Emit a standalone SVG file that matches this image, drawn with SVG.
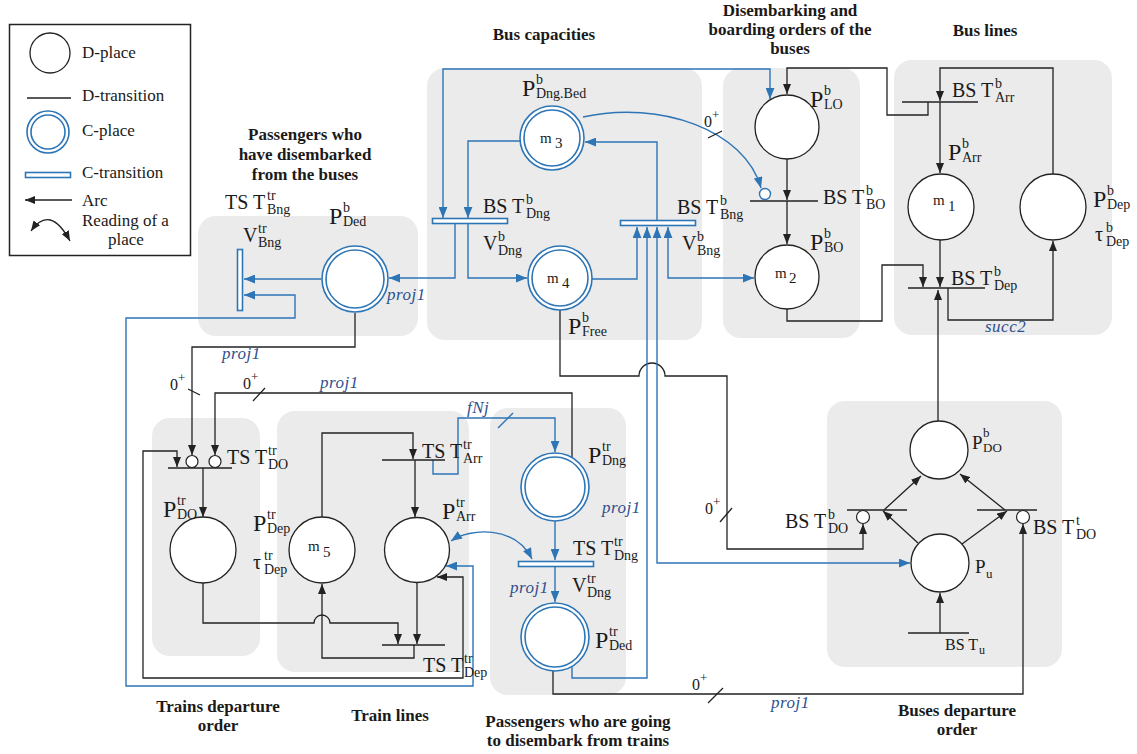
<svg xmlns="http://www.w3.org/2000/svg" width="1137" height="754" viewBox="0 0 1137 754" font-family="'Liberation Serif', 'DejaVu Serif', serif">
<style>
.reg{fill:#ebebeb}
.dp{fill:#fff;stroke:#222;stroke-width:1.3}
.cp{fill:#fff;stroke:#2e75b6;stroke-width:1.6}
.ct{fill:#fff;stroke:#2e75b6;stroke-width:1.6}
.dt{stroke:#222;stroke-width:1.4}
.inh{fill:#fff;stroke:#222;stroke-width:1.2}
.inb{fill:#fff;stroke:#2e75b6;stroke-width:1.4}
.k{fill:none;stroke:#222;stroke-width:1.3}
.b{fill:none;stroke:#2e75b6;stroke-width:1.4}
text{font-family:'Liberation Serif','DejaVu Serif',serif;fill:#1a1a1a}
.L{font-size:20px}
.P{font-size:24px}
.s{font-size:14px}
.m{font-size:15px}
.lg{font-size:17px}
.ti{font-size:17px;font-weight:bold;text-anchor:middle}
.pj{font-style:italic;font-size:17px;fill:#2f4f8f;letter-spacing:0.5px}
.z{font-size:16px}
.zs{font-size:13px}
</style>
<defs>
<marker id="ak" viewBox="0 0 10 8" refX="10" refY="4" markerWidth="10" markerHeight="8" markerUnits="userSpaceOnUse" orient="auto-start-reverse"><path d="M0 0L10 4L0 8z" fill="#222"/></marker>
<marker id="ab" viewBox="0 0 10 8" refX="10" refY="4" markerWidth="11" markerHeight="9" markerUnits="userSpaceOnUse" orient="auto-start-reverse"><path d="M0 0L10 4L0 8z" fill="#2e75b6"/></marker>
</defs>

<g id="regions">
<rect class="reg" x="198" y="216" width="220" height="120" rx="18"/>
<rect class="reg" x="427" y="68" width="275" height="272" rx="18"/>
<rect class="reg" x="723" y="68" width="137" height="270" rx="18"/>
<rect class="reg" x="894" y="60" width="218" height="275" rx="18"/>
<rect class="reg" x="152" y="418" width="108" height="238" rx="18"/>
<rect class="reg" x="277" y="411" width="192" height="261" rx="18"/>
<rect class="reg" x="490" y="408" width="136" height="287" rx="18"/>
<rect class="reg" x="827" y="401" width="235" height="266" rx="18"/>
</g>

<g id="legend">
<rect x="9.5" y="24.5" width="181" height="231" fill="#fff" stroke="#222" stroke-width="1.5"/>
<circle class="dp" cx="50" cy="53" r="20"/>
<text class="lg" x="82" y="58">D-place</text>
<line class="dt" x1="27" y1="98" x2="71" y2="98"/>
<text class="lg" x="82" y="101">D-transition</text>
<circle class="cp" cx="48" cy="132" r="21"/><circle class="cp" cx="48" cy="132" r="17"/>
<text class="lg" x="82" y="136">C-place</text>
<rect class="ct" x="25.5" y="172.5" width="45" height="5"/>
<text class="lg" x="82" y="178">C-transition</text>
<path class="k" d="M72 200H25" marker-end="url(#ak)"/>
<text class="lg" x="82" y="206">Arc</text>
<path class="k" d="M31 231Q50 204 70 241" marker-start="url(#ak)" marker-end="url(#ak)"/>
<text class="lg" x="82" y="226">Reading of a</text>
<text class="lg" x="108" y="245">place</text>
</g>

<g id="titles">
<text class="ti" x="544" y="40">Bus  capacities</text>
<text class="ti" x="790" y="16">Disembarking and</text>
<text class="ti" x="790" y="35">boarding orders of the</text>
<text class="ti" x="790" y="54">buses</text>
<text class="ti" x="985" y="36">Bus  lines</text>
<text class="ti" x="305" y="140">Passengers who</text>
<text class="ti" x="305" y="160">have disembarked</text>
<text class="ti" x="305" y="180">from the buses</text>
<text class="ti" x="218" y="712">Trains departure</text>
<text class="ti" x="218" y="731">order</text>
<text class="ti" x="390" y="721">Train  lines</text>
<text class="ti" x="578" y="727">Passengers who are going</text>
<text class="ti" x="578" y="746">to disembark from trains</text>
<text class="ti" x="957" y="716">Buses departure</text>
<text class="ti" x="957" y="735">order</text>
</g>

<g id="connectors">
<path class="k" d="M355 313V347H192V455" marker-end="url(#ak)"/>
<path class="k" d="M572 458V393H215V455" marker-end="url(#ak)"/>
<path class="k" d="M177 467V451H143V678H463V577H437" marker-start="url(#ak)" marker-end="url(#ak)"/>
<path class="k" d="M203 468V517" marker-end="url(#ak)"/>
<path class="k" d="M203 583V623H314A8 8 0 0 1 330 623H398V644" marker-end="url(#ak)"/>
<path class="k" d="M322 517V433H413V459" marker-end="url(#ak)"/>
<path class="k" d="M415 460V517" marker-end="url(#ak)"/>
<path class="k" d="M417 583V644" marker-end="url(#ak)"/>
<path class="k" d="M414 645V658H322V584" marker-end="url(#ak)"/>
<path class="k" d="M560 310V376H639A13 13 0 0 1 665 376H727V549H863V524" marker-end="url(#ak)"/>
<path class="k" d="M787 309V321H882V265H923V287" marker-end="url(#ak)"/>
<path class="k" d="M787 159V200" marker-end="url(#ak)"/>
<path class="k" d="M787 201V244" marker-end="url(#ak)"/>
<path class="k" d="M928 102V115H887V68H787V94" marker-end="url(#ak)"/>
<path class="k" d="M1053 174V68H940V101" marker-end="url(#ak)"/>
<path class="k" d="M940 102V173" marker-end="url(#ak)"/>
<path class="k" d="M940 240V287" marker-end="url(#ak)"/>
<path class="k" d="M948 288V320H1053V241" marker-end="url(#ak)"/>
<path class="k" d="M938 421V290" marker-end="url(#ak)"/>
<path class="k" d="M918 543L883 511" marker-end="url(#ak)"/>
<path class="k" d="M884 510L921 476" marker-end="url(#ak)"/>
<path class="k" d="M962 544L1007 511" marker-end="url(#ak)"/>
<path class="k" d="M1005 510L960 474" marker-end="url(#ak)"/>
<path class="k" d="M940 633V593" marker-end="url(#ak)"/>
<path class="k" d="M553 671V694H1023V524" marker-end="url(#ak)"/>
<path class="b" d="M321 279H244" marker-end="url(#ab)"/>
<path class="b" d="M244 295H295V318H126V686H473V566H446" marker-start="url(#ab)" marker-end="url(#ab)"/>
<path class="b" d="M455 223V278H389" marker-end="url(#ab)"/>
<path class="b" d="M468 223V278H527" marker-end="url(#ab)"/>
<path class="b" d="M520 141H468V218" marker-end="url(#ab)"/>
<path class="b" d="M443 218V69H770V99" marker-start="url(#ab)" marker-end="url(#ab)"/>
<path class="b" d="M592 279H637V227" marker-end="url(#ab)"/>
<path class="b" d="M657 221V142H585" marker-end="url(#ab)"/>
<path class="b" d="M668 227V278H754" marker-start="url(#ab)" marker-end="url(#ab)"/>
<path class="b" d="M657 227V563H910" marker-start="url(#ab)" marker-end="url(#ab)"/>
<path class="b" d="M572 667V678H647V227" marker-end="url(#ab)"/>
<path class="b" d="M583 117C660 100 745 130 761 188" marker-end="url(#ab)"/>
<path class="b" d="M433 460V474H458V418H555V452" marker-end="url(#ab)"/>
<path class="b" d="M555 521V560" marker-end="url(#ab)"/>
<path class="b" d="M555 567V602" marker-end="url(#ab)"/>
<path class="b" d="M451 541C470 528 515 525 532 559" marker-start="url(#ab)" marker-end="url(#ab)"/>
<path class="k" d="M188 389L200 395M253 401L265 388M708 138L722 131M720 522L732 508M708 703L723 688"/>
<path class="b" d="M498 428L513 413"/>
<text class="z" x="170" y="390">0<tspan class="zs" dy="-8">+</tspan></text>
<text class="z" x="243" y="389">0<tspan class="zs" dy="-8">+</tspan></text>
<text class="z" x="704" y="127">0<tspan class="zs" dy="-8">+</tspan></text>
<text class="z" x="705" y="514">0<tspan class="zs" dy="-8">+</tspan></text>
<text class="z" x="692" y="690">0<tspan class="zs" dy="-8">+</tspan></text>
<text class="pj" x="387" y="300">proj1</text>
<text class="pj" x="222" y="359">proj1</text>
<text class="pj" x="320" y="388">proj1</text>
<text class="pj" x="602" y="513">proj1</text>
<text class="pj" x="510" y="593">proj1</text>
<text class="pj" x="771" y="708">proj1</text>
<text class="pj" x="467" y="413">fNj</text>
<text class="pj" x="985" y="332">succ2</text>
</g>

<g id="P_b_Ded">
<circle class="cp" cx="355" cy="279" r="33"/><circle class="cp" cx="355" cy="279" r="29"/>
<text class="P" x="329" y="224">P<tspan class="s" x="343" y="212">b</tspan><tspan class="s" x="343" y="226">Ded</tspan></text>
</g>
<g id="TS_T_tr_Bng">
<rect class="ct" x="237.5" y="249.5" width="5" height="61"/>
<text class="L" x="225" y="209">TS T<tspan class="s" x="267" y="200">tr</tspan><tspan class="s" x="267" y="214">Bng</tspan></text>
<text class="L" x="243" y="242">V<tspan class="s" x="258" y="233">tr</tspan><tspan class="s" x="258" y="247">Bng</tspan></text>
</g>

<g id="P_b_DngBed">
<circle class="cp" cx="552" cy="138" r="32"/><circle class="cp" cx="552" cy="138" r="28"/>
<text class="m" x="540" y="143">m<tspan x="555" y="148">3</tspan></text>
<text class="P" x="522" y="96">P<tspan class="s" x="536" y="84">b</tspan><tspan class="s" x="536" y="98">Dng.Bed</tspan></text>
</g>
<g id="BS_T_b_Dng">
<rect class="ct" x="432.5" y="218.5" width="75" height="5"/>
<text class="L" x="483" y="213">BS T<tspan class="s" x="526" y="204">b</tspan><tspan class="s" x="526" y="218">Dng</tspan></text>
<text class="L" x="483" y="250">V<tspan class="s" x="498" y="241">b</tspan><tspan class="s" x="498" y="255">Dng</tspan></text>
</g>
<g id="P_b_Free">
<circle class="cp" cx="560" cy="278" r="32"/><circle class="cp" cx="560" cy="278" r="28"/>
<text class="m" x="547" y="283">m<tspan x="562" y="288">4</tspan></text>
<text class="P" x="568" y="334">P<tspan class="s" x="582" y="322">b</tspan><tspan class="s" x="582" y="336">Free</tspan></text>
</g>
<g id="BS_T_b_Bng">
<rect class="ct" x="620.5" y="220.5" width="75" height="5"/>
<text class="L" x="677" y="214">BS T<tspan class="s" x="720" y="205">b</tspan><tspan class="s" x="720" y="219">Bng</tspan></text>
<text class="L" x="682" y="250">V<tspan class="s" x="697" y="241">b</tspan><tspan class="s" x="697" y="255">Bng</tspan></text>
</g>

<g id="P_b_LO">
<circle class="dp" cx="787" cy="127" r="32"/>
<text class="P" x="810" y="107">P<tspan class="s" x="824" y="95">b</tspan><tspan class="s" x="824" y="109">LO</tspan></text>
</g>
<g id="BS_T_b_BO">
<line class="dt" x1="750" y1="201" x2="818" y2="201"/>
<circle class="inb" cx="765" cy="194" r="5.5"/>
<text class="L" x="823" y="204">BS T<tspan class="s" x="866" y="195">b</tspan><tspan class="s" x="866" y="209">BO</tspan></text>
</g>
<g id="P_b_BO">
<circle class="dp" cx="787" cy="277" r="32"/>
<text class="m" x="775" y="278">m<tspan x="789" y="283">2</tspan></text>
<text class="P" x="810" y="250">P<tspan class="s" x="824" y="238">b</tspan><tspan class="s" x="824" y="252">BO</tspan></text>
</g>

<g id="BS_T_b_Arr">
<line class="dt" x1="902" y1="102" x2="978" y2="102"/>
<text class="L" x="952" y="97">BS T<tspan class="s" x="995" y="88">b</tspan><tspan class="s" x="995" y="102">Arr</tspan></text>
</g>
<g id="P_b_Arr">
<circle class="dp" cx="941" cy="207" r="33"/>
<text class="m" x="933" y="205">m<tspan x="948" y="211">1</tspan></text>
<text class="P" x="948" y="160">P<tspan class="s" x="962" y="148">b</tspan><tspan class="s" x="962" y="162">Arr</tspan></text>
</g>
<g id="P_b_Dep">
<circle class="dp" cx="1053" cy="207" r="33"/>
<text class="P" x="1093" y="207">P<tspan class="s" x="1107" y="195">b</tspan><tspan class="s" x="1107" y="209">Dep</tspan></text>
<text class="L" x="1095" y="241">τ<tspan class="s" x="1106" y="232">b</tspan><tspan class="s" x="1106" y="246">Dep</tspan></text>
</g>
<g id="BS_T_b_Dep">
<line class="dt" x1="908" y1="288" x2="985" y2="288"/>
<text class="L" x="951" y="285">BS T<tspan class="s" x="994" y="276">b</tspan><tspan class="s" x="994" y="290">Dep</tspan></text>
</g>

<g id="TS_T_tr_DO">
<line class="dt" x1="168" y1="468" x2="232" y2="468"/>
<circle class="inh" cx="192" cy="461.5" r="6"/>
<circle class="inh" cx="215" cy="461.5" r="6"/>
<text class="L" x="227" y="464">TS T<tspan class="s" x="268" y="455">tr</tspan><tspan class="s" x="268" y="469">DO</tspan></text>
</g>
<g id="P_tr_DO">
<circle class="dp" cx="203" cy="550" r="33"/>
<text class="P" x="163" y="517">P<tspan class="s" x="177" y="505">tr</tspan><tspan class="s" x="177" y="519">DO</tspan></text>
</g>

<g id="P_tr_Dep">
<circle class="dp" cx="322" cy="550" r="33"/>
<text class="m" x="308" y="551">m<tspan x="323" y="557">5</tspan></text>
<text class="P" x="253" y="531">P<tspan class="s" x="267" y="519">tr</tspan><tspan class="s" x="267" y="533">Dep</tspan></text>
<text class="L" x="253" y="569">τ<tspan class="s" x="264" y="560">tr</tspan><tspan class="s" x="264" y="574">Dep</tspan></text>
</g>
<g id="TS_T_tr_Arr">
<line class="dt" x1="382" y1="460" x2="445" y2="460"/>
<text class="L" x="422" y="458">TS T<tspan class="s" x="463" y="449">tr</tspan><tspan class="s" x="463" y="463">Arr</tspan></text>
</g>
<g id="P_tr_Arr">
<circle class="dp" cx="417" cy="550" r="32.5"/>
<text class="P" x="442" y="519">P<tspan class="s" x="456" y="507">tr</tspan><tspan class="s" x="456" y="521">Arr</tspan></text>
</g>
<g id="TS_T_tr_Dep">
<line class="dt" x1="382" y1="645" x2="445" y2="645"/>
<text class="L" x="423" y="672">TS T<tspan class="s" x="464" y="663">tr</tspan><tspan class="s" x="464" y="677">Dep</tspan></text>
</g>

<g id="P_tr_Dng">
<circle class="cp" cx="555" cy="487" r="34"/><circle class="cp" cx="555" cy="487" r="30"/>
<text class="P" x="588" y="463">P<tspan class="s" x="602" y="451">tr</tspan><tspan class="s" x="602" y="465">Dng</tspan></text>
</g>
<g id="TS_T_tr_Dng">
<rect class="ct" x="518.5" y="561.5" width="75" height="5"/>
<text class="L" x="573" y="555">TS T<tspan class="s" x="614" y="546">tr</tspan><tspan class="s" x="614" y="560">Dng</tspan></text>
<text class="L" x="572" y="592">V<tspan class="s" x="587" y="583">tr</tspan><tspan class="s" x="587" y="597">Dng</tspan></text>
</g>
<g id="P_tr_Ded">
<circle class="cp" cx="555" cy="637" r="34"/><circle class="cp" cx="555" cy="637" r="30"/>
<text class="P" x="595" y="648">P<tspan class="s" x="609" y="636">tr</tspan><tspan class="s" x="609" y="650">Ded</tspan></text>
</g>

<g id="P_b_DO">
<circle class="dp" cx="939" cy="450" r="29"/>
<text x="972" y="449" font-size="19">P<tspan font-size="13" x="983" y="437">b</tspan><tspan font-size="13" x="983" y="452">DO</tspan></text>
</g>
<g id="BS_T_b_DO">
<line class="dt" x1="847" y1="510" x2="907" y2="510"/>
<circle class="inh" cx="863" cy="517" r="6.5"/>
<text class="L" x="785" y="528">BS T<tspan class="s" x="828" y="519">b</tspan><tspan class="s" x="828" y="533">DO</tspan></text>
</g>
<g id="BS_T_t_DO">
<line class="dt" x1="977" y1="510" x2="1037" y2="510"/>
<circle class="inh" cx="1023" cy="517" r="6.5"/>
<text class="L" x="1033" y="534">BS T<tspan class="s" x="1076" y="525">t</tspan><tspan class="s" x="1076" y="539">DO</tspan></text>
</g>
<g id="P_u">
<circle class="dp" cx="940" cy="563" r="29"/>
<text x="975" y="573" font-size="19">P<tspan font-size="13" x="986" y="578">u</tspan></text>
</g>
<g id="BS_T_u">
<line class="dt" x1="908" y1="633" x2="969" y2="633"/>
<text x="945" y="650" font-size="16">BS T<tspan font-size="12" x="979" y="654">u</tspan></text>
</g>
</svg>
